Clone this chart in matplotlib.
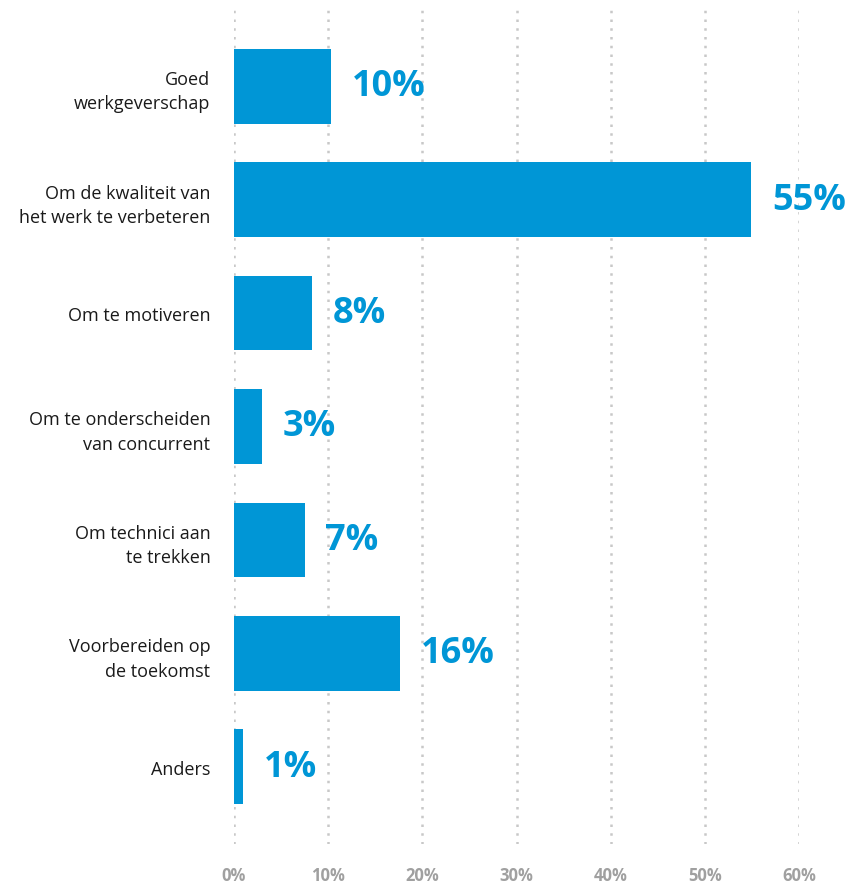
import matplotlib.pyplot as plt

# data
categories = ['Goed\nwerkgeverschap', 'Om de kwaliteit van\nhet werk te verbeteren', 'Om te motiveren',
              'Om te onderscheiden\nvan concurrent', 'Om technici aan\nte trekken',
              'Voorbereiden op\nde toekomst', 'Anders']
bar_values = [10.3, 54.9, 8.3, 3.0, 7.5, 17.6, 1.0]
value_labels = ['10%', '55%', '8%', '3%', '7%', '16%', '1%']
ticks = [0, 10, 20, 30, 40, 50, 60]
tick_labels = ['0%', '10%', '20%', '30%', '40%', '50%', '60%']

blue = '#0096d6'
plt.rcParams['font.family'] = ['Open Sans', 'DejaVu Sans']

fig = plt.figure(figsize=(8.5, 8.87), dpi=100)
ax = fig.add_axes([234 / 850, 1 - 845 / 887, (799 - 234) / 850, (845 - 10) / 887])

y = list(range(len(categories)))
ax.barh(y, bar_values, height=0.66, color=blue, zorder=2)

for yi, v, lab in zip(y, bar_values, value_labels):
    ax.annotate(lab, (v, yi), xytext=(15, 0), textcoords='offset points',
                ha='left', va='center', fontsize=26, fontweight='bold',
                color=blue, clip_on=False)

for t in ticks:
    ax.axvline(t, color='#c8c8c8', linestyle=(0, (1, 2.5)), linewidth=1.8, zorder=1)

ax.set_xlim(0, 60)
ax.set_ylim(len(categories) - 0.32, -0.68)
ax.set_xticks(ticks)
ax.set_xticklabels(tick_labels, fontsize=12, fontweight='bold', color='#a0a0a0')
ax.set_yticks(y)
ax.set_yticklabels(categories, fontsize=13, linespacing=1.45, color='#1a1a1a')
ax.tick_params(axis='x', length=0, pad=16)
ax.tick_params(axis='y', length=0, pad=17)
for s in ax.spines.values():
    s.set_visible(False)

fig.savefig('out.png', dpi=100)
